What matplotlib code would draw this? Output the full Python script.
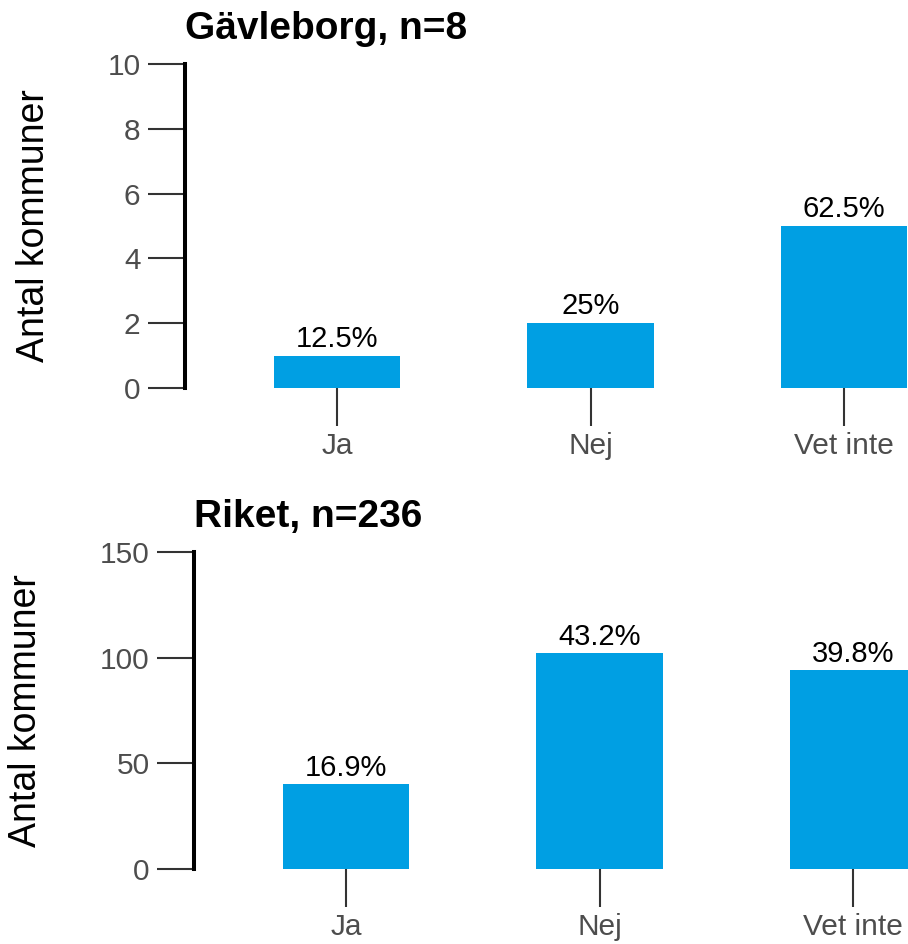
import matplotlib
matplotlib.use("Agg")
import matplotlib.pyplot as plt

plt.rcParams['font.family'] = ['Liberation Sans', 'DejaVu Sans']

categories = ["Ja", "Nej", "Vet inte"]
gavleborg_counts = [1, 2, 5]
gavleborg_pct = ["12.5%", "25%", "62.5%"]
riket_counts = [40, 102, 94]
riket_pct = ["16.9%", "43.2%", "39.8%"]

W, H = 908, 944
fig = plt.figure(figsize=(W / 100, H / 100), dpi=100)

bar_color = "#009fe3"
tick_color = "#333333"
label_color = "#4d4d4d"
step = 253.5  # pixels per category


def panel(left_px, top_px, bottom_px, counts, pcts, ymax, yticks, title):
    ax = fig.add_axes([left_px / W, 1 - bottom_px / H,
                       (W - left_px) / W, (bottom_px - top_px) / H])
    x = list(range(len(categories)))
    ax.bar(x, counts, width=0.5, color=bar_color, edgecolor="none")
    for xi, c, p in zip(x, counts, pcts):
        ax.annotate(p, (xi, c), xytext=(0, 2), textcoords="offset points",
                    ha="center", va="bottom", fontsize=21, color="black")
    ax.set_xlim(-0.6, -0.6 + (W - left_px) / step)
    ax.set_ylim(0, ymax)
    ax.set_xticks(x)
    ax.set_xticklabels(categories, fontsize=21.5)
    ax.set_yticks(yticks)
    for s in ["top", "right", "bottom"]:
        ax.spines[s].set_visible(False)
    ax.spines["left"].set_linewidth(2.9)
    ax.spines["left"].set_color("black")
    ax.tick_params(axis="both", length=27, width=1.5, color=tick_color,
                   labelcolor=label_color)
    ax.tick_params(axis="y", pad=5, labelsize=21.5)
    ax.tick_params(axis="x", pad=5)
    ax.set_ylabel("Antal kommuner", fontsize=27, color="black", labelpad=40)
    ax.set_title(title, loc="left", fontsize=28, fontweight="bold", pad=18)
    ax.patch.set_visible(False)
    return ax


panel(185, 64, 388, gavleborg_counts, gavleborg_pct, 10, [0, 2, 4, 6, 8, 10],
      "Gävleborg, n=8")
panel(194, 552, 869, riket_counts, riket_pct, 150, [0, 50, 100, 150],
      "Riket, n=236")

fig.savefig("out.png", dpi=100)
